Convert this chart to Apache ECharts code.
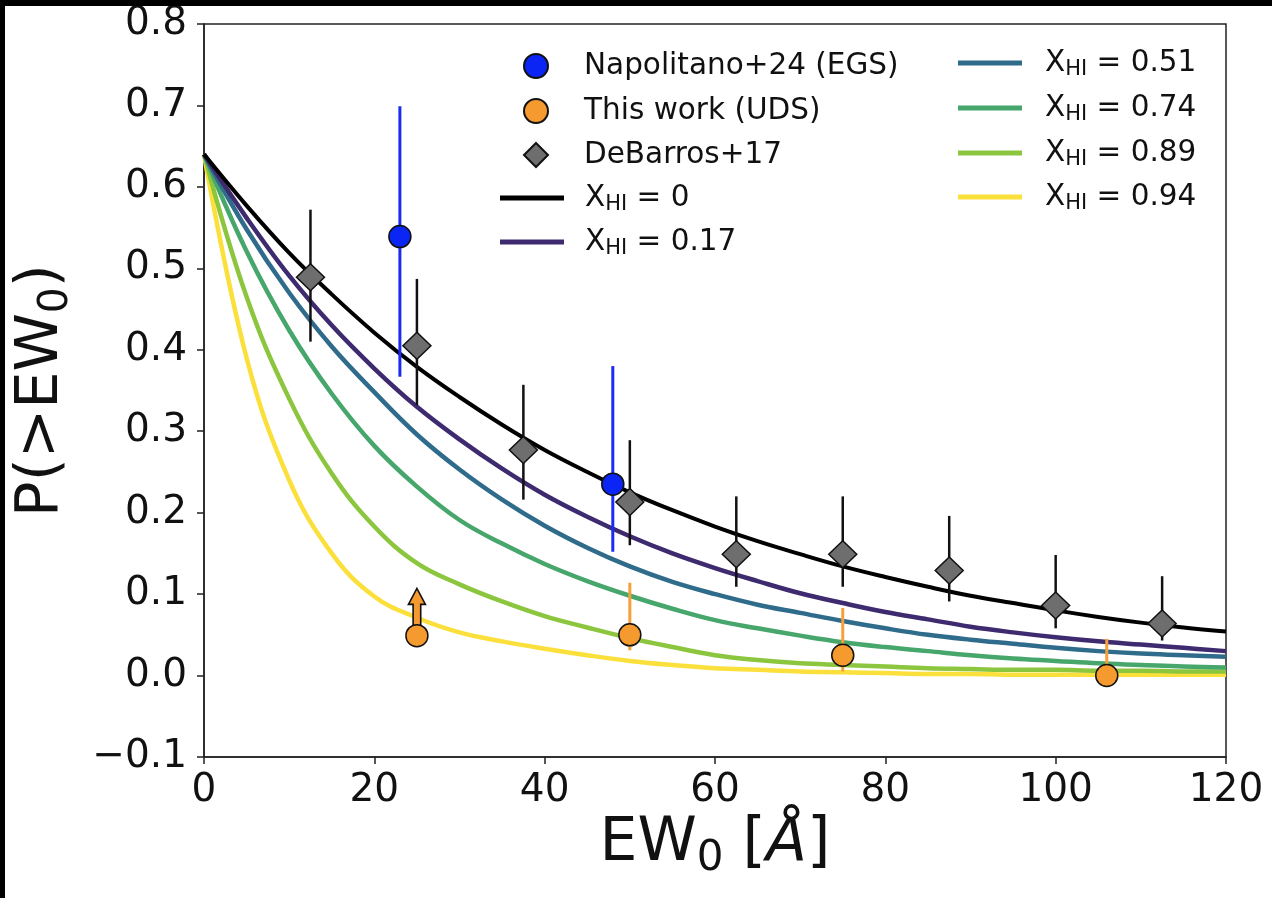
<!DOCTYPE html>
<html><head><meta charset="utf-8">
<script src="https://cdn.jsdelivr.net/npm/echarts@6/dist/echarts.min.js"></script>
<style>
html,body{margin:0;padding:0;background:#000;width:1272px;height:898px;overflow:hidden}
#c{position:absolute;left:5px;top:6px;width:1267px;height:892px;background:#fff}
</style></head><body><div id="c"></div>
<script>
// ---------- data ----------
const ewSamples = [0, 5, 10, 15, 20, 25, 30, 35, 40, 45, 50, 55, 60, 65, 70, 75, 80, 85, 90, 95, 100, 105, 110, 115, 120];
const curveNames = ['X_HI = 0', 'X_HI = 0.17', 'X_HI = 0.51', 'X_HI = 0.74', 'X_HI = 0.89', 'X_HI = 0.94'];
const curveX000 = [0.640, 0.577, 0.519, 0.468, 0.421, 0.379, 0.342, 0.308, 0.277, 0.250, 0.225, 0.203, 0.183, 0.165, 0.149, 0.134, 0.121, 0.109, 0.098, 0.089, 0.080, 0.072, 0.065, 0.059, 0.054];
const curveX017 = [0.640, 0.562, 0.491, 0.430, 0.377, 0.330, 0.290, 0.254, 0.222, 0.195, 0.171, 0.150, 0.132, 0.116, 0.101, 0.089, 0.078, 0.069, 0.060, 0.053, 0.047, 0.042, 0.038, 0.034, 0.030];
const curveX051 = [0.640, 0.548, 0.470, 0.404, 0.348, 0.296, 0.253, 0.216, 0.184, 0.157, 0.134, 0.115, 0.100, 0.087, 0.077, 0.067, 0.058, 0.050, 0.044, 0.039, 0.034, 0.030, 0.027, 0.025, 0.023];
const curveX074 = [0.640, 0.521, 0.424, 0.346, 0.282, 0.232, 0.191, 0.162, 0.137, 0.116, 0.098, 0.082, 0.068, 0.058, 0.049, 0.041, 0.035, 0.030, 0.025, 0.021, 0.018, 0.015, 0.013, 0.011, 0.010];
const curveX089 = [0.640, 0.465, 0.340, 0.248, 0.183, 0.138, 0.112, 0.091, 0.073, 0.059, 0.046, 0.035, 0.025, 0.019, 0.015, 0.013, 0.011, 0.009, 0.008, 0.007, 0.007, 0.006, 0.006, 0.005, 0.005];
const curveX094 = [0.640, 0.390, 0.240, 0.150, 0.097, 0.071, 0.053, 0.042, 0.033, 0.025, 0.018, 0.013, 0.009, 0.007, 0.005, 0.004, 0.003, 0.002, 0.002, 0.001, 0.001, 0.001, 0.001, 0.001, 0.001];

const napName = 'Napolitano+24 (EGS)';
const napX  = [23, 48];
const napY  = [0.539, 0.235];
const napLo = [0.367, 0.152];
const napHi = [0.699, 0.380];

const udsName = 'This work (UDS)';
const udsX  = [25, 50, 75, 106];
const udsY  = [0.049, 0.050, 0.025, 0.000];
const udsLo = [null, 0.031, 0.005, 0.000];
const udsHi = [null, 0.114, 0.083, 0.045];
const udsLimitX = [25];
const udsLimitFrom = [0.049];
const udsLimitTo = [0.107];

const dbName = 'DeBarros+17';
const dbX  = [12.5, 25, 37.5, 50, 62.5, 75, 87.5, 100, 112.5];
const dbY  = [0.489, 0.405, 0.277, 0.213, 0.149, 0.149, 0.129, 0.086, 0.064];
const dbLo = [0.410, 0.332, 0.216, 0.160, 0.109, 0.109, 0.091, 0.058, 0.043];
const dbHi = [0.572, 0.487, 0.357, 0.289, 0.220, 0.220, 0.196, 0.148, 0.122];

const xTicks = [0, 20, 40, 60, 80, 100, 120];
const yTicks = [-0.1, 0, 0.1, 0.2, 0.3, 0.4, 0.5, 0.6, 0.7, 0.8];

// ---------- styling ----------
const FONT = 'DejaVu Sans';
const curveValues = [curveX000, curveX017, curveX051, curveX074, curveX089, curveX094];
const curveColors = ['#000000', '#3e2a6e', '#2f6b8a', '#47a66b', '#8cc63f', '#fbe03b'];
const curveWidths = [4, 4.5, 4.5, 4.5, 4.5, 4.5];

const chart = echarts.init(document.getElementById('c'), null, {renderer: 'canvas'});

function pairs(xs, ys) { return xs.map((x, i) => [x, ys[i]]); }

function errSeries(xs, lo, hi, color, width) {
  const data = [];
  xs.forEach((x, i) => { if (lo[i] != null) data.push([x, lo[i], hi[i]]); });
  return {
    type: 'custom', data, z: 3, silent: true, clip: false,
    encode: {x: 0, y: [1, 2]},
    renderItem(params, api) {
      const a = api.coord([api.value(0), api.value(1)]);
      const b = api.coord([api.value(0), api.value(2)]);
      return {type: 'line', shape: {x1: a[0], y1: a[1], x2: b[0], y2: b[1]},
        style: {stroke: color, lineWidth: width}};
    }
  };
}

const series = [];
curveNames.forEach((n, k) => {
  series.push({
    name: n, type: 'line', data: pairs(ewSamples, curveValues[k]),
    smooth: 0.4, showSymbol: false, symbol: 'none',
    color: curveColors[k], itemStyle: {color: curveColors[k]},
    lineStyle: {color: curveColors[k], width: curveWidths[k]},
    z: 2 + (curveNames.length - k) * 0.01, silent: true
  });
});
series.push(errSeries(dbX, dbLo, dbHi, '#111', 2.5));
series.push(errSeries(napX, napLo, napHi, '#1a2cf0', 3));
series.push(errSeries(udsX, udsLo, udsHi, '#f5a03a', 3));
series.push({
  type: 'custom', z: 4, silent: true, clip: false,
  data: udsLimitX.map((x, i) => [x, udsLimitFrom[i], udsLimitTo[i]]),
  encode: {x: 0, y: [1, 2]},
  renderItem(params, api) {
    const a = api.coord([api.value(0), api.value(1)]);
    const b = api.coord([api.value(0), api.value(2)]);
    const x = a[0], hw = 3.8, hh = 8.5, hl = 16;
    return {type: 'polygon', shape: {points: [
      [x - hw, a[1]], [x - hw, b[1] + hl], [x - hh, b[1] + hl], [x, b[1]],
      [x + hh, b[1] + hl], [x + hw, b[1] + hl], [x + hw, a[1]]]},
      style: {fill: '#f59a2e', stroke: '#111', lineWidth: 1.6}};
  }
});
series.push({name: napName, type: 'scatter', data: pairs(napX, napY), symbol: 'circle', symbolSize: 22,
  itemStyle: {color: '#0b25f5', borderColor: '#111', borderWidth: 1.5, opacity: 1}, z: 6, silent: true});
series.push({name: udsName, type: 'scatter', data: pairs(udsX, udsY), symbol: 'circle', symbolSize: 22,
  itemStyle: {color: '#f59a2e', borderColor: '#111', borderWidth: 1.5, opacity: 1}, z: 6, silent: true});
series.push({name: dbName, type: 'scatter', data: pairs(dbX, dbY), symbol: 'diamond', symbolSize: [28, 27],
  itemStyle: {color: '#6e6e6e', borderColor: '#111', borderWidth: 1.5, opacity: 1}, z: 5, silent: true});

// legends
const LFS = 29.5;
const rich = {
  g: {width: 0, fontSize: LFS, lineHeight: 34, fontFamily: FONT},
  a: {fontSize: LFS, lineHeight: 34, fontFamily: FONT, color: '#111'},
  s: {fontSize: 21, lineHeight: 19, verticalAlign: 'bottom', fontFamily: FONT, color: '#111'}
};
function legendFor(name, left, top, marker, pad) {
  return {
    data: [marker ? {name} : {name, icon: 'rect'}],
    left, top, padding: 0, orient: 'vertical', selectedMode: false,
    itemWidth: marker ? 24 : 64, itemHeight: marker ? 24 : 5,
    formatter: nm => {
      const mm = nm.match(/^X_HI = (.*)$/);
      const sp = '{g| }';
      return mm ? sp + '{a|X}{s|HI}{a| = ' + mm[1] + '}' : sp + '{a|' + nm + '}';
    },
    textStyle: {fontFamily: FONT, fontSize: LFS, color: '#111',
      rich: Object.assign({}, rich, {g: Object.assign({}, rich.g, {width: pad})})}
  };
}
const leftTops = [45, 90, 134, 177, 221];
const rightTops = [42, 87, 132, 176];
const legends = [
  legendFor(napName, 518, leftTops[0], true, 31),
  legendFor(udsName, 518, leftTops[1], true, 31),
  legendFor(dbName, 518, leftTops[2], true, 31),
  legendFor(curveNames[0], 495, leftTops[3], false, 16),
  legendFor(curveNames[1], 495, leftTops[4], false, 16),
  legendFor(curveNames[2], 953, rightTops[0], false, 18),
  legendFor(curveNames[3], 953, rightTops[1], false, 18),
  legendFor(curveNames[4], 953, rightTops[2], false, 18),
  legendFor(curveNames[5], 953, rightTops[3], false, 18)
];

const axisCol = '#222';
chart.setOption({
  animation: false,
  backgroundColor: '#fff',
  textStyle: {fontFamily: FONT},
  grid: {left: 199, top: 18, right: 46, bottom: 141, containLabel: false, outerBoundsMode: 'none',
    show: true, borderColor: axisCol, borderWidth: 1.5, backgroundColor: '#fff'},
  legend: legends,
  xAxis: {
    type: 'value', min: xTicks[0], max: xTicks[xTicks.length - 1], interval: xTicks[1] - xTicks[0],
    axisLine: {show: true, onZero: false, lineStyle: {color: axisCol, width: 1.5}},
    axisTick: {show: true, inside: false, length: 7, lineStyle: {color: axisCol, width: 1.5}},
    axisLabel: {fontFamily: FONT, fontSize: 39, color: '#111', margin: 14,
      formatter: v => String(Math.round(v))},
    splitLine: {show: false},
    name: '{a|EW}{s|0}{a| [}{i|Å}{a|]}', nameLocation: 'middle', nameGap: 52,
    nameTextStyle: {rich: {
      a: {fontFamily: FONT, fontSize: 60, lineHeight: 70, color: '#111'},
      i: {fontFamily: FONT, fontSize: 60, lineHeight: 70, fontStyle: 'italic', color: '#111'},
      s: {fontFamily: FONT, fontSize: 42, lineHeight: 40, verticalAlign: 'bottom', color: '#111'}
    }}
  },
  yAxis: {
    type: 'value', min: yTicks[0], max: yTicks[yTicks.length - 1], interval: 0.1,
    axisLine: {show: true, onZero: false, lineStyle: {color: axisCol, width: 1.5}},
    axisTick: {show: true, inside: false, length: 7, lineStyle: {color: axisCol, width: 1.5}},
    axisLabel: {fontFamily: FONT, fontSize: 39, color: '#111', margin: 17,
      formatter: v => (v < -1e-9 ? '\u2212' : '') + Math.abs(v).toFixed(1)},
    splitLine: {show: false},
    name: '{a|P(>EW}{s|0}{a|)}', nameLocation: 'middle', nameGap: 127,
    nameTextStyle: {rich: {
      a: {fontFamily: FONT, fontSize: 59, lineHeight: 70, color: '#111'},
      s: {fontFamily: FONT, fontSize: 41, lineHeight: 40, verticalAlign: 'bottom', color: '#111'}
    }}
  },
  series
});
</script></body></html>
